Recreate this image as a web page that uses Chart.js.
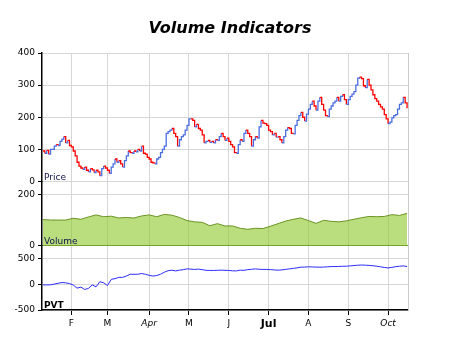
<!DOCTYPE html>
<html>
<head>
<meta charset="utf-8">
<script src="https://cdn.jsdelivr.net/npm/chart.js@4.4.0/dist/chart.umd.min.js"></script>
<style>
    html, body { margin: 0; padding: 0; background: #fff; }
</style>
</head>
<body>
<canvas id="mychart" width="460" height="345"></canvas>
<script>
// daily closes, one per trading day (mid Jan -> mid Oct)
var closes = [
    95, 88, 97, 85, 100, 100, 110, 115, 112, 125,
    132, 140, 120, 128, 112, 108, 95, 80, 60, 48,
    42, 38, 45, 35, 30, 40, 36, 28, 35, 30,
    18, 40, 48, 42, 35, 25, 45, 55, 70, 60,
    65, 55, 45, 65, 80, 95, 90, 88, 95, 92,
    100, 95, 110, 88, 85, 75, 70, 60, 58, 55,
    70, 75, 90, 100, 110, 150, 155, 160, 165, 150,
    140, 110, 130, 140, 145, 160, 175, 195, 195, 190,
    170, 178, 165, 160, 145, 120, 125, 128, 122, 125,
    120, 130, 128, 140, 150, 140, 128, 135, 125, 115,
    108, 90, 88, 115, 130, 125, 150, 160, 150, 140,
    110, 130, 140, 135, 170, 190, 182, 180, 175, 160,
    155, 145, 150, 138, 140, 130, 120, 140, 160, 168,
    165, 150, 148, 175, 190, 205, 215, 200, 188, 210,
    225, 240, 250, 235, 222, 250, 262, 240, 222, 205,
    202, 225, 235, 245, 250, 262, 250, 265, 270, 255,
    240, 255, 265, 272, 280, 300, 322, 325, 320, 298,
    292, 318, 300, 285, 270, 258, 250, 240, 232, 225,
    208, 195, 180, 185, 198, 205, 208, 225, 240, 245,
    262, 245, 228
];

// volume, read every 4th trading day
var volumeStep = 4;
var volume = [
    102, 100, 100, 100, 107, 103, 112, 120, 113, 115,
    108, 110, 108, 116, 120, 113, 122, 119, 110, 98,
    93, 91, 78, 86, 77, 77, 68, 64, 68, 67,
    76, 86, 96, 103, 108, 98, 87, 99, 95, 93,
    97, 103, 109, 114, 113, 114, 121, 118, 126
];

// price volume trend, read every 2nd trading day
var pvtStep = 2;
var pvt = [
    -10, -12, -10, 5, 20, 35, 28, 15, -15, -75,
    -55, -100, -80, -10, -50, 50, 30, -25, 95, 110,
    135, 135, 160, 195, 195, 195, 210, 195, 175, 160,
    170, 195, 235, 265, 275, 260, 275, 285, 300, 295,
    290, 295, 285, 272, 270, 270, 272, 275, 272, 270,
    262, 260, 275, 272, 285, 292, 300, 292, 290, 290,
    285, 280, 275, 280, 290, 300, 310, 320, 333, 335,
    340, 338, 335, 333, 335, 340, 345, 345, 348, 350,
    352, 358, 365, 372, 375, 372, 368, 360, 352, 340,
    328, 318, 330, 342, 352, 358, 346
];

// first trading day of each month and its label
var monthIdx = [15, 34, 56, 77, 98, 119, 140, 161, 182];
var monthLabels = ['F', 'M', 'Apr', 'M', 'J', 'Jul', 'A', 'S', 'Oct'];

var upColor = '#4a6ee0';
var downColor = '#ff0000';
var gridColor = '#d6d6d6';
var fontName = 'DejaVu Sans';

var priceData = closes.map(function (c, i) { return { x: i, y: c }; });
var volData = volume.map(function (v, k) { return { x: k * volumeStep, y: v }; });
var pvtData = pvt.map(function (v, k) { return { x: k * pvtStep, y: v }; });

// little text labels in the corner of each panel
var panelLabels = {
    id: 'panelLabels',
    afterDatasetsDraw: function (chart) {
        var c = chart.ctx;
        var left = chart.chartArea.left;
        var list = [
            ['yPrice', 'Price', 'normal', '#10104a'],
            ['yVol', 'Volume', 'normal', '#10104a'],
            ['yPvt', 'PVT', 'bold', '#000000']
        ];
        c.save();
        c.textAlign = 'left';
        c.textBaseline = 'alphabetic';
        list.forEach(function (l) {
            var s = chart.scales[l[0]];
            c.font = l[2] + ' 9px "' + fontName + '"';
            c.fillStyle = l[3];
            c.fillText(l[1], left + 2, s.bottom - 2);
        });
        c.restore();
    }
};

function yAxis(extra) {
    var base = {
        type: 'linear',
        position: 'left',
        stack: 'panels',
        grid: { color: gridColor, tickColor: '#000', tickLength: 4, lineWidth: 1 },
        border: { color: '#000', width: 1.5 },
        ticks: { color: '#000', padding: 3, font: { family: fontName, size: 9 } },
        afterFit: function (s) { s.width = 42; }
    };
    return Object.assign(base, extra);
}

var ctx = document.getElementById('mychart');
var chart = new Chart(ctx, {
    type: 'line',
    data: {
        datasets: [{
            label: 'Price',
            data: priceData,
            yAxisID: 'yPrice',
            stepped: true,
            borderColor: upColor,
            borderWidth: 1.3,
            pointRadius: 0,
            fill: false,
            segment: {
                borderColor: function (s) { return s.p1.parsed.y >= s.p0.parsed.y ? upColor : downColor; }
            }
        }, {
            label: 'Volume',
            data: volData,
            yAxisID: 'yVol',
            borderColor: '#6b9323',
            borderWidth: 1,
            backgroundColor: 'rgba(140,200,40,0.6)',
            fill: 'origin',
            pointRadius: 0
        }, {
            label: 'PVT',
            data: pvtData,
            yAxisID: 'yPvt',
            borderColor: '#2b2bff',
            borderWidth: 1,
            pointRadius: 0,
            fill: false
        }]
    },
    options: {
        responsive: false,
        animation: false,
        layout: { padding: 0 },
        plugins: {
            legend: { display: false },
            tooltip: { enabled: false },
            title: {
                display: true,
                text: 'Volume Indicators',
                color: '#000',
                font: { family: fontName, size: 16, weight: 'bold', style: 'italic', lineHeight: 1.2 },
                padding: { top: 19, bottom: 14.8 }
            }
        },
        scales: {
            x: {
                type: 'linear',
                position: 'bottom',
                min: -0.5,
                max: closes.length - 0.5,
                grid: { color: gridColor, tickColor: '#000', tickLength: 5, lineWidth: 1 },
                border: { color: '#000', width: 1.5 },
                afterBuildTicks: function (s) {
                    s.ticks = monthIdx.map(function (v) { return { value: v }; });
                },
                afterFit: function (s) { s.height = 35; },
                ticks: {
                    autoSkip: false,
                    maxRotation: 0,
                    padding: 3,
                    color: '#000',
                    callback: function (v) {
                        var k = monthIdx.indexOf(v);
                        return k >= 0 ? monthLabels[k] : '';
                    },
                    font: function (c) {
                        var lab = monthLabels[c.index];
                        if (lab === 'Jul') return { family: fontName, size: 11, weight: 'bold' };
                        if (lab === 'Apr' || lab === 'Oct') return { family: fontName, size: 9, style: 'italic' };
                        return { family: fontName, size: 9 };
                    }
                }
            },
            // empty right axis: keeps the right margin and gives the grey plot border
            yRight: {
                type: 'linear',
                position: 'right',
                min: 0, max: 1,
                grid: { display: false },
                ticks: { display: false },
                border: { color: '#cccccc', width: 1 },
                afterFit: function (s) { s.width = 52; }
            },
            // stacked panels: last one defined ends up on top
            yPvt: yAxis({
                min: -500, max: 750, stackWeight: 1,
                afterBuildTicks: function (s) {
                    s.ticks = [{ value: -500 }, { value: 0 }, { value: 500 }];
                }
            }),
            yVol: yAxis({
                min: 0, max: 250, stackWeight: 1,
                afterBuildTicks: function (s) {
                    s.ticks = [{ value: 0 }, { value: 200 }];
                },
                grid: {
                    color: function (c) { return c.tick && c.tick.value === 0 ? '#6b9323' : gridColor; },
                    tickColor: '#000', tickLength: 4, lineWidth: 1
                }
            }),
            yPrice: yAxis({
                min: 0, max: 400, stackWeight: 2,
                ticks: { stepSize: 100, color: '#000', padding: 3, font: { family: fontName, size: 9 } }
            })
        }
    },
    plugins: [panelLabels]
});
</script>
</body>
</html>
